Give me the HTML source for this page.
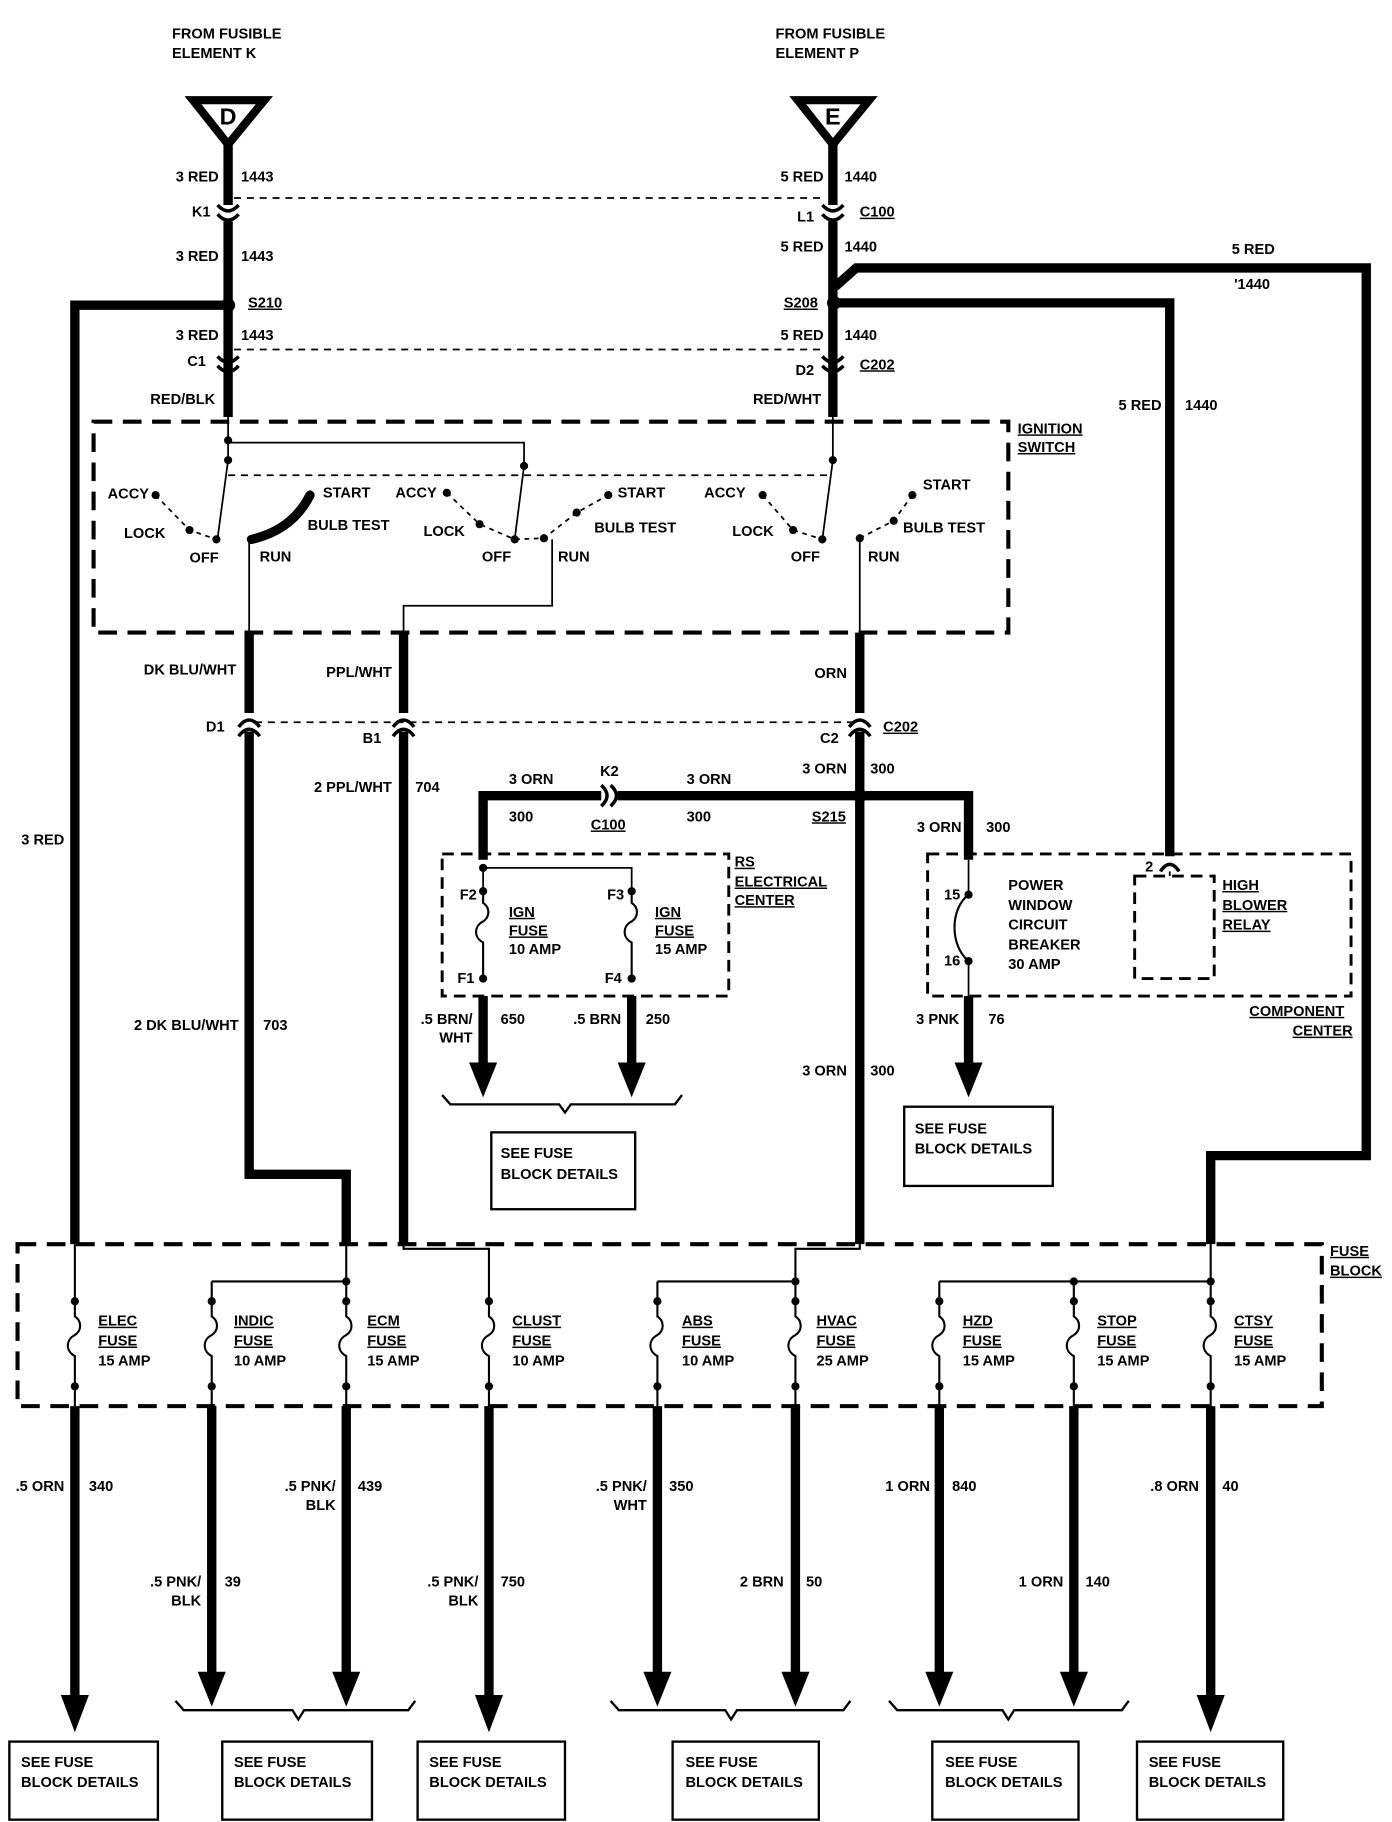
<!DOCTYPE html>
<html><head><meta charset="utf-8"><style>
html,body{margin:0;padding:0;background:#fff}
svg{display:block}
text{font-family:"Liberation Sans",sans-serif;font-weight:bold;font-size:12.5px;fill:#000}
.u{text-decoration:underline}
</style></head><body>
<svg width="1392" height="1822" viewBox="0 0 1190 1564" preserveAspectRatio="none" xmlns="http://www.w3.org/2000/svg">
<g fill="none" stroke="#000" stroke-linejoin="miter">
<!-- triangles -->
<path d="M165,86 H226 L195,124 Z" stroke-width="7"/>
<path d="M682,86 H743 L712,124 Z" stroke-width="7"/>
<!-- main thick wires -->
<g stroke-width="8">
<path d="M195,124 V176 M195,190 V358"/>
<path d="M712,124 V176 M712,190 V358"/>
<path d="M191,262 H64 V1068"/>
<path d="M716,260 H1000 V735"/>
<path d="M714,246 L732,230 H1168 V992 H1035 V1068"/>
<path d="M213,543 V612 M213,628 V1008 H296 V1068"/>
<path d="M345,543 V612 M345,628 V1068"/>
<path d="M735,543 V612 M735,628 V1068"/>
<path d="M413,738 V683 H514 M528,683 H828 V738"/>
<path d="M413,855 V915 M540,855 V915 M828,855 V915"/>
<path d="M64,1207 V1460 M181,1207 V1438 M296,1207 V1438 M418,1207 V1460 M562,1207 V1438 M680,1207 V1438 M803,1207 V1438 M918,1207 V1438 M1035,1207 V1460"/>
</g>
<!-- connectors -->
<g stroke-width="3">
<path d="M186,176 Q195,186 204,176 M186,184 Q195,194 204,184"/>
<path d="M703,176 Q712,186 721,176 M703,184 Q712,194 721,184"/>
<path d="M186,306 Q195,316 204,306 M186,314 Q195,324 204,314"/>
<path d="M703,306 Q712,316 721,306 M703,314 Q712,324 721,314"/>
<path d="M204,624 Q213,612 222,624 M204,632 Q213,620 222,632"/>
<path d="M336,624 Q345,612 354,624 M336,632 Q345,620 354,632"/>
<path d="M726,624 Q735,612 744,624 M726,632 Q735,620 744,632"/>
<path d="M514,674 Q524,683 514,692 M522,674 Q532,683 522,692"/>
<path d="M992,748 Q1000,736 1008,748"/>
</g>
<!-- dashed -->
<g stroke-width="1.5" stroke-dasharray="6,5">
<path d="M200,170 H705 M200,300 H705 M218,620 H730 M195,408 H712"/>
</g>
<g stroke-width="3.5" stroke-dasharray="16,9">
<rect x="80" y="362" width="782" height="181"/>
<rect x="15" y="1068" width="1115" height="139"/>
<rect x="378" y="733" width="245" height="122" stroke-width="2.5" stroke-dasharray="10,6"/>
<rect x="793" y="733" width="362" height="122" stroke-width="2.5" stroke-dasharray="10,6"/>
<rect x="970" y="752" width="68" height="88" stroke-width="2.5" stroke-dasharray="10,6"/>
</g>
<!-- ignition internals -->
<g stroke-width="1.5">
<path d="M195,358 V395 L186,462 M195,380 H448 V400 L440,463 M712,358 V395 L703,463"/>
<path d="M213,465 V543 M472,463 V520 H345 V543 M735,462 V543"/>
<path d="M413,745 H540 V765 M413,745 V765"/>
<path d="M828,738 V768 M828,825 V855"/>
<path d="M828,768 C812,780 812,812 828,825" stroke-width="1.8"/>
<path d="M1000,748 V752"/>
</g>
<g stroke-width="1.5" stroke-dasharray="4,4">
<path d="M133,425 L162,455 L185,463 M382,423 L410,450 L440,463 L465,462 L493,440 L520,425 M652,425 L678,455 L703,463 M735,462 L764,447 L780,425"/>
</g>
<path d="M265,425 Q250,455 215,463" stroke-width="8" stroke-linecap="round"/>
<!-- fuses -->
<g stroke-width="1.8">
<path d="M413,765 V775 c6,4 6,12 0,16 c-8,4 -8,14 0,18 V840"/>
<path d="M540,765 V775 c6,4 6,12 0,16 c-8,4 -8,14 0,18 V840"/>
<path d="M64,1068 V1130 c6,4 6,12 0,16 c-8,4 -8,14 0,18 V1207"/>
<path d="M181,1100 V1130 c6,4 6,12 0,16 c-8,4 -8,14 0,18 V1207"/>
<path d="M296,1068 V1130 c6,4 6,12 0,16 c-8,4 -8,14 0,18 V1207 M181,1100 H296"/>
<path d="M345,1068 V1072 H418 V1130 c6,4 6,12 0,16 c-8,4 -8,14 0,18 V1207"/>
<path d="M562,1100 V1130 c6,4 6,12 0,16 c-8,4 -8,14 0,18 V1207 M562,1100 H680"/>
<path d="M735,1068 V1072 H680 V1130 c6,4 6,12 0,16 c-8,4 -8,14 0,18 V1207"/>
<path d="M803,1100 V1130 c6,4 6,12 0,16 c-8,4 -8,14 0,18 V1207 M803,1100 H1035"/>
<path d="M918,1100 V1130 c6,4 6,12 0,16 c-8,4 -8,14 0,18 V1207"/>
<path d="M1035,1068 V1130 c6,4 6,12 0,16 c-8,4 -8,14 0,18 V1207"/>
</g>
<!-- braces -->
<g stroke-width="2">
<path d="M378,940 L385,948 H478 L483,955 L488,948 H577 L583,940"/>
<path d="M150,1460 L157,1468 H250 L255,1476 L260,1468 H349 L355,1460"/>
<path d="M522,1460 L529,1468 H620 L625,1476 L630,1468 H721 L727,1460"/>
<path d="M760,1460 L767,1468 H857 L862,1476 L867,1468 H959 L965,1460"/>
</g>
<!-- boxes -->
<g stroke-width="2">
<rect x="420" y="972" width="123" height="66"/>
<rect x="773" y="950" width="127" height="68"/>
<rect x="8" y="1495" width="127" height="67"/>
<rect x="190" y="1495" width="128" height="67"/>
<rect x="357" y="1495" width="126" height="67"/>
<rect x="575" y="1495" width="125" height="67"/>
<rect x="797" y="1495" width="125" height="67"/>
<rect x="972" y="1495" width="125" height="67"/>
</g>
</g>
<!-- arrowheads & dots -->
<g fill="#000">
<path d="M401,912 H425 L413,942 Z M528,912 H552 L540,942 Z M816,912 H840 L828,942 Z"/>
<path d="M52,1455 H76 L64,1487 Z M169,1435 H193 L181,1465 Z M284,1435 H308 L296,1465 Z M406,1455 H430 L418,1487 Z M550,1435 H574 L562,1465 Z M668,1435 H692 L680,1465 Z M791,1435 H815 L803,1465 Z M906,1435 H930 L918,1465 Z M1023,1455 H1047 L1035,1487 Z"/>
<circle cx="195" cy="262" r="6"/><circle cx="713" cy="260" r="6"/><circle cx="735" cy="683" r="6"/>
<g>
<circle cx="195" cy="378" r="3.5"/><circle cx="195" cy="395" r="3.5"/><circle cx="448" cy="400" r="3.5"/><circle cx="712" cy="395" r="3.5"/>
<circle cx="133" cy="425" r="3.5"/><circle cx="162" cy="455" r="3.5"/><circle cx="185" cy="463" r="3.5"/>
<circle cx="382" cy="423" r="3.5"/><circle cx="410" cy="450" r="3.5"/><circle cx="440" cy="463" r="3.5"/><circle cx="465" cy="462" r="3.5"/><circle cx="493" cy="440" r="3.5"/><circle cx="520" cy="425" r="3.5"/>
<circle cx="652" cy="425" r="3.5"/><circle cx="678" cy="455" r="3.5"/><circle cx="703" cy="463" r="3.5"/><circle cx="735" cy="462" r="3.5"/><circle cx="764" cy="447" r="3.5"/><circle cx="780" cy="425" r="3.5"/>
<circle cx="413" cy="745" r="3.5"/><circle cx="413" cy="765" r="3.5"/><circle cx="413" cy="840" r="3.5"/><circle cx="540" cy="765" r="3.5"/><circle cx="540" cy="840" r="3.5"/>
<circle cx="828" cy="768" r="3.5"/><circle cx="828" cy="825" r="3.5"/>
<circle cx="181" cy="1117" r="3.5"/><circle cx="181" cy="1190" r="3.5"/><circle cx="64" cy="1117" r="3.5"/><circle cx="64" cy="1190" r="3.5"/>
<circle cx="296" cy="1100" r="3.5"/><circle cx="296" cy="1117" r="3.5"/><circle cx="296" cy="1190" r="3.5"/><circle cx="418" cy="1117" r="3.5"/><circle cx="418" cy="1190" r="3.5"/>
<circle cx="562" cy="1117" r="3.5"/><circle cx="562" cy="1190" r="3.5"/><circle cx="680" cy="1100" r="3.5"/><circle cx="680" cy="1117" r="3.5"/><circle cx="680" cy="1190" r="3.5"/>
<circle cx="803" cy="1117" r="3.5"/><circle cx="803" cy="1190" r="3.5"/><circle cx="918" cy="1100" r="3.5"/><circle cx="918" cy="1117" r="3.5"/><circle cx="918" cy="1190" r="3.5"/>
<circle cx="1035" cy="1100" r="3.5"/><circle cx="1035" cy="1117" r="3.5"/><circle cx="1035" cy="1190" r="3.5"/>
</g>
</g>
<!-- text -->
<text x="147" y="33">FROM FUSIBLE</text><text x="147" y="50">ELEMENT K</text>
<text x="663" y="33">FROM FUSIBLE</text><text x="663" y="50">ELEMENT P</text>
<text x="195" y="107" text-anchor="middle" style="font-size:20px">D</text>
<text x="712" y="107" text-anchor="middle" style="font-size:20px">E</text>
<g text-anchor="end">
<text x="187" y="156">3 RED</text><text x="187" y="224">3 RED</text><text x="187" y="292">3 RED</text>
<text x="704" y="156">5 RED</text><text x="704" y="216">5 RED</text><text x="704" y="292">5 RED</text>
<text x="180" y="186">K1</text><text x="176" y="314">C1</text><text x="696" y="190">L1</text><text x="696" y="322">D2</text>
<text x="184" y="347">RED/BLK</text><text x="702" y="347">RED/WHT</text>
<text x="202" y="579">DK BLU/WHT</text><text x="335" y="581">PPL/WHT</text><text x="724" y="582">ORN</text>
<text x="192" y="628">D1</text><text x="326" y="638">B1</text><text x="717" y="638">C2</text>
<text x="55" y="725">3 RED</text><text x="204" y="884">2 DK BLU/WHT</text><text x="335" y="680">2 PPL/WHT</text>
<text x="724" y="664">3 ORN</text><text x="724" y="923">3 ORN</text><text x="822" y="714">3 ORN</text>
<text x="993" y="352">5 RED</text>
<text x="404" y="879">.5 BRN/</text><text x="404" y="895">WHT</text><text x="531" y="879">.5 BRN</text>
<text x="820" y="879">3 PNK</text>
<text x="55" y="1280">.5 ORN</text>
<text x="287" y="1280">.5 PNK/</text><text x="287" y="1296">BLK</text>
<text x="172" y="1362">.5 PNK/</text><text x="172" y="1378">BLK</text>
<text x="409" y="1362">.5 PNK/</text><text x="409" y="1378">BLK</text>
<text x="553" y="1280">.5 PNK/</text><text x="553" y="1296">WHT</text>
<text x="670" y="1362">2 BRN</text><text x="795" y="1280">1 ORN</text><text x="909" y="1362">1 ORN</text><text x="1025" y="1280">.8 ORN</text>
</g>
<text x="206" y="156">1443</text><text x="206" y="224">1443</text><text x="206" y="292">1443</text>
<text x="722" y="156">1440</text><text x="722" y="216">1440</text><text x="722" y="292">1440</text>
<text x="735" y="186" class="u">C100</text><text x="735" y="317" class="u">C202</text>
<text x="212" y="264" class="u">S210</text><text x="670" y="264" class="u">S208</text>
<text x="1053" y="218">5 RED</text><text x="1055" y="248">'1440</text><text x="1013" y="352">1440</text>
<text x="870" y="372" class="u">IGNITION</text><text x="870" y="388" class="u">SWITCH</text>
<text x="92" y="428">ACCY</text><text x="106" y="462">LOCK</text><text x="162" y="483">OFF</text><text x="276" y="427">START</text><text x="263" y="455">BULB TEST</text><text x="222" y="482">RUN</text>
<text x="338" y="427">ACCY</text><text x="362" y="460">LOCK</text><text x="412" y="482">OFF</text><text x="528" y="427">START</text><text x="508" y="457">BULB TEST</text><text x="477" y="482">RUN</text>
<text x="602" y="427">ACCY</text><text x="626" y="460">LOCK</text><text x="676" y="482">OFF</text><text x="789" y="420">START</text><text x="772" y="457">BULB TEST</text><text x="742" y="482">RUN</text>
<text x="755" y="628" class="u">C202</text>
<text x="355" y="680">704</text><text x="225" y="884">703</text><text x="744" y="664">300</text><text x="744" y="923">300</text><text x="843" y="714">300</text>
<text x="513" y="666">K2</text><text x="435" y="673">3 ORN</text><text x="435" y="705">300</text><text x="587" y="673">3 ORN</text><text x="587" y="705">300</text>
<text x="505" y="712" class="u">C100</text><text x="694" y="705" class="u">S215</text>
<text x="628" y="744" class="u">RS</text><text x="628" y="761" class="u">ELECTRICAL</text><text x="628" y="777" class="u">CENTER</text>
<text x="393" y="772">F2</text><text x="519" y="772">F3</text><text x="391" y="844">F1</text><text x="517" y="844">F4</text>
<text x="435" y="787" class="u">IGN</text><text x="435" y="803" class="u">FUSE</text><text x="435" y="819">10 AMP</text>
<text x="560" y="787" class="u">IGN</text><text x="560" y="803" class="u">FUSE</text><text x="560" y="819">15 AMP</text>
<text x="428" y="879">650</text><text x="552" y="879">250</text><text x="845" y="879">76</text>
<text x="807" y="772">15</text><text x="807" y="829">16</text>
<text x="862" y="764">POWER</text><text x="862" y="781">WINDOW</text><text x="862" y="798">CIRCUIT</text><text x="862" y="815">BREAKER</text><text x="862" y="832">30 AMP</text>
<text x="979" y="748">2</text>
<text x="1045" y="764" class="u">HIGH</text><text x="1045" y="781" class="u">BLOWER</text><text x="1045" y="798" class="u">RELAY</text>
<text x="1068" y="872" class="u">COMPONENT</text><text x="1105" y="889" class="u">CENTER</text>
<text x="428" y="994">SEE FUSE</text><text x="428" y="1012">BLOCK DETAILS</text>
<text x="782" y="973">SEE FUSE</text><text x="782" y="990">BLOCK DETAILS</text>
<text x="1137" y="1078" class="u">FUSE</text><text x="1137" y="1095" class="u">BLOCK</text>
<text x="84" y="1138" class="u">ELEC</text><text x="84" y="1155" class="u">FUSE</text><text x="84" y="1172">15 AMP</text>
<text x="200" y="1138" class="u">INDIC</text><text x="200" y="1155" class="u">FUSE</text><text x="200" y="1172">10 AMP</text>
<text x="314" y="1138" class="u">ECM</text><text x="314" y="1155" class="u">FUSE</text><text x="314" y="1172">15 AMP</text>
<text x="438" y="1138" class="u">CLUST</text><text x="438" y="1155" class="u">FUSE</text><text x="438" y="1172">10 AMP</text>
<text x="583" y="1138" class="u">ABS</text><text x="583" y="1155" class="u">FUSE</text><text x="583" y="1172">10 AMP</text>
<text x="698" y="1138" class="u">HVAC</text><text x="698" y="1155" class="u">FUSE</text><text x="698" y="1172">25 AMP</text>
<text x="823" y="1138" class="u">HZD</text><text x="823" y="1155" class="u">FUSE</text><text x="823" y="1172">15 AMP</text>
<text x="938" y="1138" class="u">STOP</text><text x="938" y="1155" class="u">FUSE</text><text x="938" y="1172">15 AMP</text>
<text x="1055" y="1138" class="u">CTSY</text><text x="1055" y="1155" class="u">FUSE</text><text x="1055" y="1172">15 AMP</text>
<text x="76" y="1280">340</text><text x="306" y="1280">439</text><text x="192" y="1362">39</text><text x="428" y="1362">750</text>
<text x="572" y="1280">350</text><text x="689" y="1362">50</text><text x="814" y="1280">840</text><text x="928" y="1362">140</text><text x="1045" y="1280">40</text>
<text x="18" y="1517">SEE FUSE</text><text x="18" y="1534">BLOCK DETAILS</text>
<text x="200" y="1517">SEE FUSE</text><text x="200" y="1534">BLOCK DETAILS</text>
<text x="367" y="1517">SEE FUSE</text><text x="367" y="1534">BLOCK DETAILS</text>
<text x="586" y="1517">SEE FUSE</text><text x="586" y="1534">BLOCK DETAILS</text>
<text x="808" y="1517">SEE FUSE</text><text x="808" y="1534">BLOCK DETAILS</text>
<text x="982" y="1517">SEE FUSE</text><text x="982" y="1534">BLOCK DETAILS</text>
</svg>
</body></html>
